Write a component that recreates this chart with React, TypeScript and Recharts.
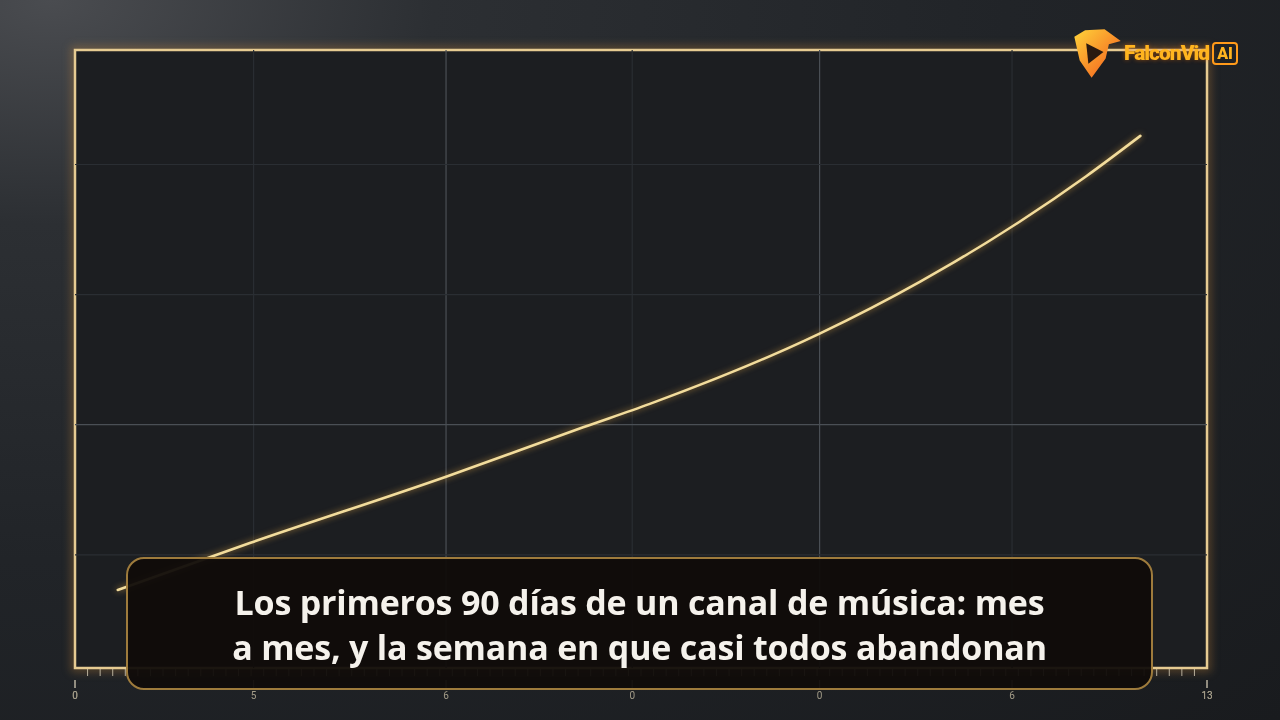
import React from "react";
import { LineChart, Line, XAxis, YAxis, ReferenceLine, ReferenceArea } from "recharts";

// días del canal (eje x) y crecimiento relativo (eje y)
const days = [3.4, 13.9, 29.5, 40.4, 45.7, 59.2, 67.2, 75.1, 80.4, 84.7];
const growth = [0.73, 1.09, 1.6, 1.98, 2.16, 2.7, 3.1, 3.56, 3.91, 4.22];

const majorTicks = [0, 14.2, 29.5, 44.3, 59.2, 74.5, 90];
const majorLabels = ["0", "5", "6", "0", "0", "6", "13"];
const minorTicks = Array.from({ length: 91 }, (_, i) => i);

const gridX = [14.2, 29.5, 44.3, 59.2, 74.5];
const strongX = [29.5, 59.2];
const gridY = [1, 2, 3, 4];
const strongY = [2];

const captionLines = [
  "Los primeros 90 días de un canal de música: mes",
  "a mes, y la semana en que casi todos abandonan",
];

const data = days.map((d, i) => ({ day: d, value: growth[i] }));
const allTicks = [...minorTicks, ...majorTicks].sort((a, b) => a - b);

function AxisTick(props: any) {
  const { x, y, payload } = props;
  const idx = majorTicks.indexOf(payload.value);
  if (idx >= 0) {
    return (
      <g>
        <line x1={x} x2={x} y1={y + 12} y2={y + 20} stroke="#b9b2a0" strokeWidth={1} />
        <text x={x} y={y + 31} textAnchor="middle" fontSize={10} fill="#a39c88" fontFamily="Roboto, sans-serif">
          {majorLabels[idx]}
        </text>
      </g>
    );
  }
  return <line x1={x} x2={x} y1={y + 1} y2={y + 8} stroke="#d8cfb8" strokeOpacity={0.8} strokeWidth={1} />;
}

function Frame(props: any) {
  const { x, y, width, height } = props;
  return (
    <g>
      <rect
        x={x}
        y={y}
        width={width}
        height={height}
        fill="none"
        stroke="#c88a3a"
        strokeOpacity={0.35}
        strokeWidth={8}
        style={{ filter: "blur(4px)" }}
      />
      <rect x={x} y={y} width={width} height={height} fill="#1c1e21" stroke="#e6cb92" strokeWidth={2.5} />
    </g>
  );
}

export default function App() {
  return (
    <div
      style={{
        position: "fixed",
        left: 0,
        top: 0,
        width: 1280,
        height: 720,
        overflow: "hidden",
        background:
          "radial-gradient(ellipse at 4% 0%, #4a4c50 0%, #2c2f33 22%, #212428 55%, #191b1e 100%)",
      }}
    >
      <LineChart width={1280} height={720} data={data} margin={{ top: 50, right: 73, bottom: 22, left: 75 }}>
        <XAxis
          dataKey="day"
          type="number"
          domain={[0, 90]}
          ticks={allTicks}
          interval={0}
          axisLine={false}
          tickLine={false}
          tickSize={0}
          tickMargin={0}
          height={30}
          tick={<AxisTick />}
        />
        <YAxis hide type="number" domain={[0.13, 4.88]} allowDataOverflow />
        <ReferenceArea x1={0} x2={90} y1={0.13} y2={4.88} shape={<Frame />} ifOverflow="visible" />
        {gridX.map((gx) => (
          <ReferenceLine
            key={"x" + gx}
            x={gx}
            stroke={strongX.includes(gx) ? "#4a4f55" : "#2a2e33"}
            strokeWidth={1.2}
          />
        ))}
        {gridY.map((gy) => (
          <ReferenceLine
            key={"y" + gy}
            y={gy}
            stroke={strongY.includes(gy) ? "#4a4f55" : "#2a2e33"}
            strokeWidth={1.2}
          />
        ))}
        <Line
          type="monotone"
          dataKey="value"
          stroke="#f2dc9c"
          strokeWidth={2.6}
          dot={false}
          strokeLinecap="round"
          isAnimationActive={false}
          style={{ filter: "drop-shadow(0 0 3px rgba(230,170,70,0.7))" }}
        />
      </LineChart>

      <div
        style={{
          position: "absolute",
          left: 126,
          top: 557,
          width: 1027,
          height: 133,
          boxSizing: "border-box",
          border: "2px solid #9e7b3c",
          borderRadius: 18,
          background: "rgba(16,12,10,0.95)",
          display: "flex",
          alignItems: "center",
          justifyContent: "center",
        }}
      >
        <div
          style={{
            color: "#f5f2ec",
            fontFamily: "'Open Sans', 'Noto Sans', sans-serif",
            fontWeight: 700,
            fontSize: 34,
            lineHeight: "45px",
            textAlign: "center",
            letterSpacing: -0.2,
            marginTop: 2,
          }}
        >
          {captionLines[0]}
          <br />
          {captionLines[1]}
        </div>
      </div>

      <div style={{ position: "absolute", left: 1070, top: 26, display: "flex", alignItems: "center" }}>
        <svg width={54} height={54} viewBox="0 0 50 50">
          <defs>
            <linearGradient id="logoFill" x1="0" y1="0" x2="1" y2="1">
              <stop offset="0%" stopColor="#ffd43a" />
              <stop offset="100%" stopColor="#f2541b" />
            </linearGradient>
          </defs>
          <path d="M4 10 L14 4 L32 3 L47 14 L36 17 L33 30 L20 48 L9 32 Z" fill="url(#logoFill)" />
          <path d="M15 16 L31 24 L17 35 Z" fill="#2a1a10" />
        </svg>
        <span
          style={{
            fontFamily: "Roboto, sans-serif",
            fontWeight: 900,
            fontSize: 21,
            letterSpacing: -1,
            color: "#ffb41f",
            marginLeft: 0,
            textShadow: "0 0 4px rgba(255,120,0,0.5)",
          }}
        >
          FalconVid
        </span>
        <span
          style={{
            fontFamily: "Roboto, sans-serif",
            fontWeight: 900,
            fontSize: 16,
            color: "#ffb41f",
            border: "2px solid #ff9a1a",
            borderRadius: 4,
            padding: "0 3px",
            marginLeft: 3,
            lineHeight: "19px",
          }}
        >
          AI
        </span>
      </div>
    </div>
  );
}
